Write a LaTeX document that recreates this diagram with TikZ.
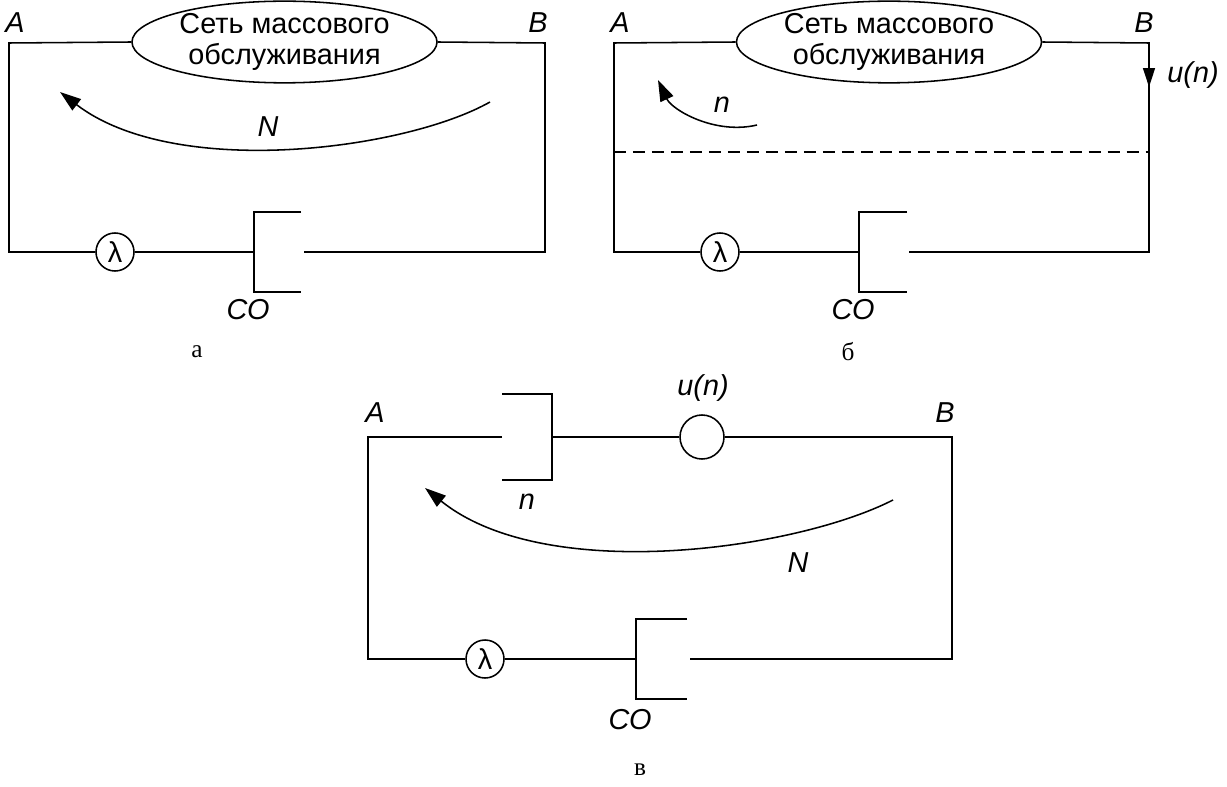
\documentclass[tikz,border=0pt]{standalone}
\usepackage{fontspec}
\setmainfont{Liberation Sans}
\newfontfamily\captfont{Liberation Serif}
\usetikzlibrary{arrows.meta, shapes.geometric, positioning}
% service device: bar with two arms, #2 = arm length, #3 = half height
\newcommand{\gateD}[3]
{
	\draw[wire] (#1) ++(#2,-#3) -- ++(-#2,0) -- ++(0,{2*#3}) -- ++(#2,0)
}

\begin{document}
\begin{tikzpicture}[x=0.025cm, y=-0.025cm,
			wire/.style={line width=1.1pt},
			qnet/.style={shape=ellipse, draw=black, wire,
				minimum width=7.625cm, minimum height=2cm,
				inner sep=0pt, align=center,
				font=\fontsize{20.5}{22.5}\selectfont},
			src/.style={shape=circle, draw=black, wire,
				minimum size=0.95cm, inner sep=0pt,
				font=\fontsize{20.5}{22.5}\selectfont},
			lbl/.style={font=\fontsize{20.5}{22.5}\selectfont\itshape, inner sep=0pt},
			capt/.style={font=\captfont\fontsize{18}{20}\selectfont, inner sep=0pt},
			flow/.style={wire, -{Triangle[length=15pt, width=10pt]}}]
	\useasboundingbox (0,0) rectangle (1227,787);

	% --- a ---
	\coordinate (a-nw) at (9,43);
	\coordinate (a-ne) at (545,43);
	\coordinate (a-sw) at (9,252);
	\coordinate (a-se) at (545,252);
	\coordinate (a-co) at (254,252);
	\coordinate (a-out) at (304,252);
	\coordinate (a-t1) at (490,102);
	\coordinate (a-t2) at (60,92);
	\node[qnet] at (284.5,42) (a-net){Сеть массового\\обслуживания};
	\node[src] at (115,252) (a-lam){λ};
	\node[lbl] at (15,23) (a-A){A};
	\node[lbl] at (538,23) (a-B){B};
	\node[lbl] at (268,127) (a-N){N};
	\node[lbl] at (248,310) (a-CO){СО};
	\node[capt] at (197,352) (a-cap){а};

	\draw[wire] (a-net.west) -- (a-nw) -- (a-sw) -- (a-lam);
	\draw[wire] (a-lam) -- (a-co);
	\draw[wire] (a-out) -- (a-se) -- (a-ne) -- (a-net.east);
	\gateD{a-co}{47}{40};
	\draw[flow] (a-t1) .. controls (405,150) and (175,180) .. (a-t2);

	% --- b ---
	\coordinate (b-nw) at (614,43);
	\coordinate (b-ne) at (1149,43);
	\coordinate (b-sw) at (614,252);
	\coordinate (b-se) at (1149,252);
	\coordinate (b-tip) at (1149,87);
	\coordinate (b-co) at (859,252);
	\coordinate (b-out) at (909,252);
	\coordinate (b-d1) at (614,152);
	\coordinate (b-d2) at (1149,152);
	\coordinate (b-t1) at (757,125);
	\coordinate (b-t2) at (658,80);
	\node[qnet] at (889,42) (b-net){Сеть массового\\обслуживания};
	\node[src] at (720,252) (b-lam){λ};
	\node[lbl] at (620,23) (b-A){A};
	\node[lbl] at (1144,23) (b-B){B};
	\node[lbl] at (1193,75) (b-u){u(n)};
	\node[lbl] at (722,105) (b-n){n};
	\node[lbl] at (853,310) (b-CO){СО};
	\node[capt] at (848,352) (b-cap){б};

	\draw[wire] (b-net.west) -- (b-nw) -- (b-sw) -- (b-lam);
	\draw[wire] (b-lam) -- (b-co);
	\draw[wire] (b-out) -- (b-se) -- (b-ne) -- (b-net.east);
	\gateD{b-co}{48}{40};
	\draw[wire, -{Triangle[length=13.5pt, width=8.5pt]}] (b-ne) -- (b-tip);
	\draw[wire, dash pattern=on 8.5pt off 5pt] (b-d1) -- (b-d2);
	\draw[flow] (b-t1) .. controls (715,135) and (672,110) .. (b-t2);

	% --- c ---
	\coordinate (c-nw) at (368,437);
	\coordinate (c-ne) at (952,437);
	\coordinate (c-sw) at (368,659);
	\coordinate (c-se) at (952,659);
	\coordinate (c-in) at (502,437);
	\coordinate (c-gate) at (552,437);
	\coordinate (c-co) at (636,659);
	\coordinate (c-out) at (690,659);
	\coordinate (c-t1) at (893,500);
	\coordinate (c-t2) at (425,488);
	\node[src, minimum size=1.1cm] at (702,437) (c-u){};
	\node[src] at (485,659) (c-lam){λ};
	\node[lbl] at (375,413) (c-A){A};
	\node[lbl] at (945,413) (c-B){B};
	\node[lbl] at (703,388) (c-un){u(n)};
	\node[lbl] at (527,502) (c-n){n};
	\node[lbl] at (798,563) (c-N){N};
	\node[lbl] at (630,720) (c-CO){СО};
	\node[capt] at (640,770) (c-cap){в};

	\draw[wire] (c-in) -- (c-nw) -- (c-sw) -- (c-lam);
	\draw[wire] (c-lam) -- (c-co);
	\draw[wire] (c-out) -- (c-se) -- (c-ne) -- (c-u);
	\draw[wire] (c-u) -- (c-gate);
	\gateD{c-gate}{-50}{43};
	\gateD{c-co}{51}{40};
	\draw[flow] (c-t1) .. controls (795,550) and (545,585) .. (c-t2);
\end{tikzpicture}
\end{document}
